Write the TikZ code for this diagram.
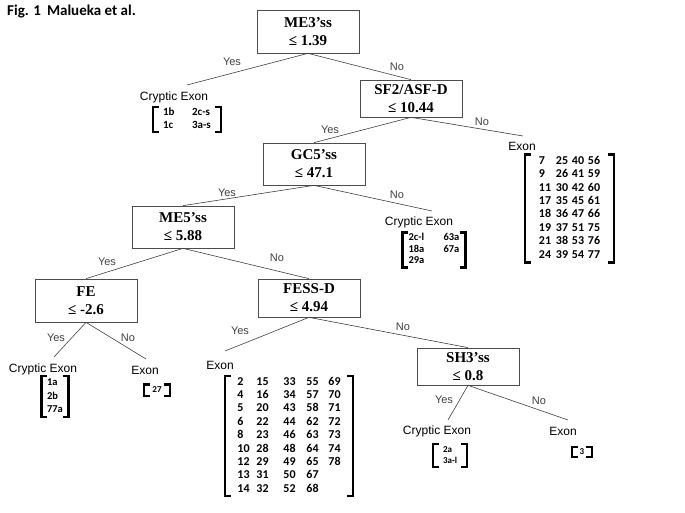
\documentclass[tikz,border=0pt]{standalone}
\usepackage{fontspec}
\setmainfont{Liberation Sans}
\newfontfamily\serifbox{Liberation Serif}
\newfontfamily\cellfont{Carlito}
\usetikzlibrary{positioning}
\setlength{\tabcolsep}{0pt}

% thick brackets round a list of exons
\newcommand{\fence}[1]{%
  \draw[brkline] ([xshift=6pt]#1.north west) -- (#1.north west) -- (#1.south west) -- ([xshift=6pt]#1.south west);
  \draw[brkline] ([xshift=-6pt]#1.north east) -- (#1.north east) -- (#1.south east) -- ([xshift=-6pt]#1.south east);}

\tikzset{
  split/.style={draw=black!70, line width=0.7pt, minimum width=102pt, minimum height=#1,
    inner sep=0pt, align=center, font=\serifbox\bfseries\fontsize{15}{18}\selectfont},
  split/.default=42pt,
  branch/.style={draw=black!75, line width=0.6pt},
  answer/.style={text=black!75, font=\fontsize{11}{13}\selectfont, inner sep=1pt},
  leaf/.style={font=\fontsize{12}{14}\selectfont, inner sep=0pt},
  cells/.style 2 args={font=\cellfont\bfseries\fontsize{#1}{#2}\selectfont, inner ysep=0pt},
  brkline/.style={line width=2.4pt, line join=miter},
}

\begin{document}
\begin{tikzpicture}[x=1pt, y=-1pt]
    \useasboundingbox (0,0) rectangle (685,513);

    % Caption
    \node[font=\cellfont\bfseries\fontsize{15}{18}\selectfont, anchor=west, inner sep=0pt] (fig) at (7,12) {Fig. 1\hspace{6pt}Malueka et al.};

    % Split boxes
    \node[split=43pt] (me3) at (308,31.5) {ME3’ss\\≤ 1.39};
    \node[split=37pt] (sf2) at (411,98.5) {SF2/ASF-D\\≤ 10.44};
    \node[split] (gc5) at (314,164) {GC5’ss\\≤ 47.1};
    \node[split] (me5) at (183,227) {ME5’ss\\≤ 5.88};
    \node[split=43pt] (fe) at (86,300.5) {FE\\≤ -2.6};
    \node[split=38pt] (fess) at (309,298) {FESS-D\\≤ 4.94};
    \node[split=37pt] (sh3) at (468,366.5) {SH3’ss\\≤ 0.8};

    % Leaf labels
    \node[leaf] (crypA) at (174,97) {Cryptic Exon};
    \node[leaf] (exonC) at (522,146) {Exon};
    \node[leaf] (crypB) at (419,222) {Cryptic Exon};
    \node[leaf] (crypD) at (43,369) {Cryptic Exon};
    \node[leaf] (exonE) at (145,370) {Exon};
    \node[leaf] (exonF) at (220,365) {Exon};
    \node[leaf] (crypG) at (437,431) {Cryptic Exon};
    \node[leaf] (exonH) at (563,431) {Exon};

    % Exon lists
    \node[cells={11}{12.5}, inner xsep=10pt] (listA) at (187,119.5)
        {\begin{tabular}{p{29pt}l}1b & 2c-s\\ 1c & 3a-s\end{tabular}};
    \node[cells={12}{13.4}, inner xsep=14pt] (listC) at (569.5,208.5)
        {\begin{tabular}{p{17pt}p{16pt}p{16pt}l}
        7 & 25 & 40 & 56\\ 9 & 26 & 41 & 59\\ 11 & 30 & 42 & 60\\ 17 & 35 & 45 & 61\\
        18 & 36 & 47 & 66\\ 19 & 37 & 51 & 75\\ 21 & 38 & 53 & 76\\ 24 & 39 & 54 & 77
        \end{tabular}};
    \node[cells={10.5}{11.5}, inner xsep=6pt] (listB) at (434,250)
        {\begin{tabular}{p{35pt}l}2c-l & 63a\\ 18a & 67a\\ 29a & \end{tabular}};
    \node[cells={10.5}{13.5}, inner xsep=5.5pt] (listD) at (55,396.5)
        {\begin{tabular}{l}1a\\ 2b\\ 77a\end{tabular}};
    \node[cells={9}{11}, inner xsep=8pt, minimum height=11pt] (listE) at (157,390) {27};
    \node[cells={12}{13.35}, inner xsep=12pt] (listF) at (289,436)
        {\begin{tabular}{p{19pt}p{27pt}p{23pt}p{22pt}l}
        2 & 15 & 33 & 55 & 69\\ 4 & 16 & 34 & 57 & 70\\ 5 & 20 & 43 & 58 & 71\\
        6 & 22 & 44 & 62 & 72\\ 8 & 23 & 46 & 63 & 73\\ 10 & 28 & 48 & 64 & 74\\
        12 & 29 & 49 & 65 & 78\\ 13 & 31 & 50 & 67 & \\ 14 & 32 & 52 & 68 &
        \end{tabular}};
    \node[cells={9}{11.5}, inner xsep=10pt] (listG) at (450,455.5)
        {\begin{tabular}{l}2a\\ 3a-l\end{tabular}};
    \node[cells={9}{10}, inner xsep=7.5pt, minimum height=10pt] (listH) at (582,452) {3};

    \foreach \l in {listA,listB,listC,listD,listE,listF,listG,listH} {\fence{\l}}

    % Branch ends above the leaves
    \coordinate (endA) at (187,85);
    \coordinate (endC) at (523,136);
    \coordinate (endB) at (432,211);
    \coordinate (endD) at (54,357);
    \coordinate (endE) at (146,359);
    \coordinate (endF) at (225,351);
    \coordinate (endG) at (448,420);
    \coordinate (endH) at (568,420);

    % Branches
    \draw[branch] (me3.south) -- (endA);
    \draw[branch] (me3.south) -- (sf2.north);
    \draw[branch] (sf2.south) -- (gc5.north);
    \draw[branch] (sf2.south) -- (endC);
    \draw[branch] (gc5.south) -- (me5.north);
    \draw[branch] (gc5.south) -- (endB);
    \draw[branch] (me5.south) -- (fe.north);
    \draw[branch] (me5.south) -- (fess.north);
    \draw[branch] (fe.south) -- (endD);
    \draw[branch] (fe.south) -- (endE);
    \draw[branch] (fess.south) -- (endF);
    \draw[branch] (fess.south) -- (sh3.north);
    \draw[branch] (sh3.south) -- (endG);
    \draw[branch] (sh3.south) -- (endH);

    % Yes / No answers
    \node[answer] (yesA) at (232,62) {Yes};
    \node[answer] (noA) at (397,67) {No};
    \node[answer] (yesB) at (330,130) {Yes};
    \node[answer] (noB) at (482,122) {No};
    \node[answer] (yesC) at (227,193) {Yes};
    \node[answer] (noC) at (397,195) {No};
    \node[answer] (yesD) at (107,262) {Yes};
    \node[answer] (noD) at (277,258) {No};
    \node[answer] (yesE) at (56,338) {Yes};
    \node[answer] (noE) at (128,338) {No};
    \node[answer] (yesF) at (240,331) {Yes};
    \node[answer] (noF) at (403,327) {No};
    \node[answer] (yesG) at (444,400) {Yes};
    \node[answer] (noG) at (539,401) {No};
\end{tikzpicture}
\end{document}
